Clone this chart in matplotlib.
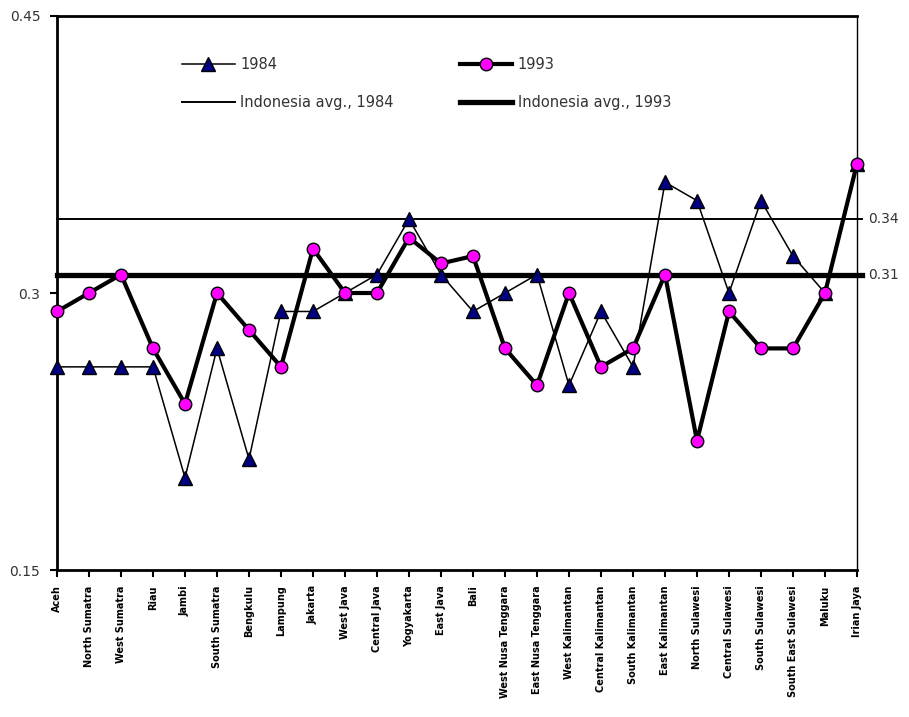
import matplotlib.pyplot as plt
from matplotlib.lines import Line2D

provinces = ['Aceh', 'North Sumatra', 'West Sumatra', 'Riau', 'Jambi',
             'South Sumatra', 'Bengkulu', 'Lampung', 'Jakarta', 'West Java',
             'Central Java', 'Yogyakarta', 'East Java', 'Bali',
             'West Nusa Tenggara', 'East Nusa Tenggara', 'West Kalimantan',
             'Central Kalimantan', 'South Kalimantan', 'East Kalimantan',
             'North Sulawesi', 'Central Sulawesi', 'South Sulawesi',
             'South East Sulawesi', 'Maluku', 'Irian Jaya']

gini_1984 = [0.26, 0.26, 0.26, 0.26, 0.20, 0.27, 0.21, 0.29, 0.29, 0.30,
             0.31, 0.34, 0.31, 0.29, 0.30, 0.31, 0.25, 0.29, 0.26, 0.36,
             0.35, 0.30, 0.35, 0.32, 0.30, 0.37]
gini_1993 = [0.29, 0.30, 0.31, 0.27, 0.24, 0.30, 0.28, 0.26, 0.324, 0.30,
             0.30, 0.33, 0.316, 0.32, 0.27, 0.25, 0.30, 0.26, 0.27, 0.31,
             0.22, 0.29, 0.27, 0.27, 0.30, 0.37]

avg_1984 = 0.34
avg_1993 = 0.31
yticks = [0.15, 0.3, 0.45]

fig = plt.figure(figsize=(9.09, 7.17), dpi=100)
ax = fig.add_axes([0.0627, 0.205, 0.8801, 0.7727])

x = list(range(len(provinces)))

ax.axhline(avg_1984, xmin=0, xmax=1.006, color='black', lw=1.4, clip_on=False, zorder=1)
ax.axhline(avg_1993, xmin=0, xmax=1.006, color='black', lw=3.8, clip_on=False, zorder=1)

ax.plot(x, gini_1984, color='black', lw=1.1, marker='^', markersize=10,
        markerfacecolor='#000080', markeredgecolor='black', markeredgewidth=1,
        clip_on=False, zorder=3)
ax.plot(x, gini_1993, color='black', lw=3, marker='o', markersize=9,
        markerfacecolor='#ff00ff', markeredgecolor='black', markeredgewidth=1,
        clip_on=False, zorder=4)

ax.set_xlim(0, len(provinces) - 1)
ax.set_ylim(0.15, 0.45)
ax.set_yticks(yticks)
ax.set_yticklabels([str(v) for v in yticks], fontsize=10, color='#333333')
ax.set_xticks(x)
ax.set_xticklabels(provinces, rotation=90, fontsize=7, fontweight='bold',
                   va='top', ha='center')
ax.tick_params(axis='both', direction='out', length=5, width=1.5, color='black')
ax.tick_params(axis='y', pad=7)
ax.tick_params(axis='x', pad=6)

for side in ['left', 'top', 'bottom']:
    ax.spines[side].set_linewidth(2)
ax.spines['right'].set_linewidth(1)

# value labels for the national averages on the right edge
for v in [avg_1984, avg_1993]:
    ax.annotate(f'{v:.2f}', xy=(1.0, v), xycoords=('axes fraction', 'data'),
                xytext=(8, 0), textcoords='offset points', va='center',
                ha='left', fontsize=10, color='#333333')

handles = [
    Line2D([], [], color='black', lw=1.1, marker='^', markersize=10,
           markerfacecolor='#000080', markeredgecolor='black'),
    Line2D([], [], color='black', lw=1.4),
    Line2D([], [], color='black', lw=3, marker='o', markersize=9,
           markerfacecolor='#ff00ff', markeredgecolor='black'),
    Line2D([], [], color='black', lw=3.8),
]
labels = ['1984', 'Indonesia avg., 1984', '1993', 'Indonesia avg., 1993']
ax.legend(handles, labels, ncol=2, frameon=False, fontsize=10.5,
          loc='upper left', bbox_to_anchor=(0.14, 0.95), handlelength=3.6,
          handletextpad=0.4, columnspacing=4.5, labelspacing=1.6,
          labelcolor='#333333')

fig.savefig('out.png', dpi=100)
